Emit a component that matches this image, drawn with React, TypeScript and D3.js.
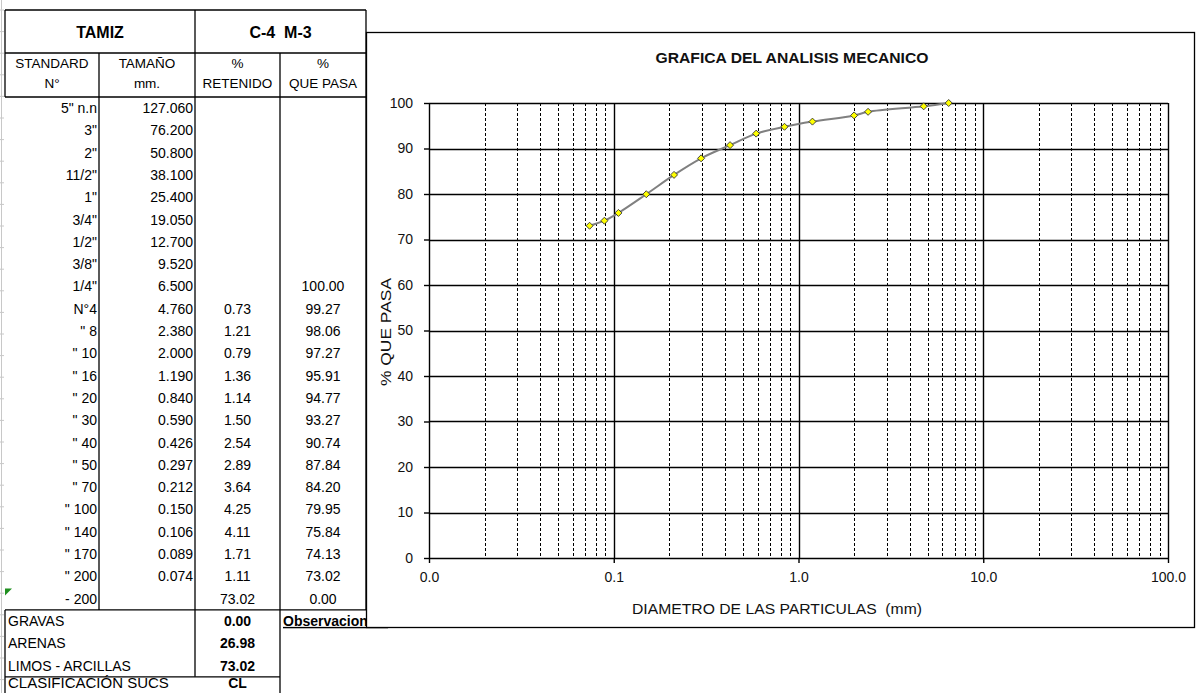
import { useRef, useEffect } from "react";
import * as d3 from "d3";

// Table data
const standards = ['5" n.n', '3"', '2"', '11/2"', '1"', '3/4"', '1/2"', '3/8"', '1/4"', "N°4", '" 8', '" 10', '" 16', '" 20', '" 30', '" 40', '" 50', '" 70', '" 100', '" 140', '" 170', '" 200', "- 200"];
const sizes = ["127.060", "76.200", "50.800", "38.100", "25.400", "19.050", "12.700", "9.520", "6.500", "4.760", "2.380", "2.000", "1.190", "0.840", "0.590", "0.426", "0.297", "0.212", "0.150", "0.106", "0.089", "0.074", ""];
const retenido = ["", "", "", "", "", "", "", "", "", "0.73", "1.21", "0.79", "1.36", "1.14", "1.50", "2.54", "2.89", "3.64", "4.25", "4.11", "1.71", "1.11", "73.02"];
const quePasa = ["", "", "", "", "", "", "", "", "100.00", "99.27", "98.06", "97.27", "95.91", "94.77", "93.27", "90.74", "87.84", "84.20", "79.95", "75.84", "74.13", "73.02", "0.00"];
const summaryLabels = ["GRAVAS", "ARENAS", "LIMOS - ARCILLAS"];
const summaryValues = ["0.00", "26.98", "73.02"];

// Chart data
const diametro = [6.5, 4.76, 2.38, 2.0, 1.19, 0.84, 0.59, 0.426, 0.297, 0.212, 0.15, 0.106, 0.089, 0.074];
const pasa = [100.0, 99.27, 98.06, 97.27, 95.91, 94.77, 93.27, 90.74, 87.84, 84.2, 79.95, 75.84, 74.13, 73.02];
const xTicks = [0.01, 0.1, 1, 10, 100];
const yTicks = [0, 10, 20, 30, 40, 50, 60, 70, 80, 90, 100];

export default function App() {
  const ref = useRef<SVGSVGElement>(null);

  useEffect(() => {
    if (!ref.current) return;
    const width = 1201;
    const height = 693;
    const svg = d3.select(ref.current);
    svg.selectAll("*").remove();
    svg.attr("width", width).attr("height", height);

    const tFont = "'Liberation Sans', Arial, sans-serif";

    // ---------- Table ----------
    const tbl = svg.append("g").attr("font-family", tFont).attr("fill", "#000");
    const colX = [5, 99, 195, 280, 366];
    const rowTop = 97;
    const rowH = 22.3;
    const rowsEnd = rowTop + rowH * standards.length; // ~610

    // excel left gridline
    tbl.append("line").attr("x1", 1.5).attr("x2", 1.5).attr("y1", 0).attr("y2", height).attr("stroke", "#c8c8c8");
    d3.range(0, 32).forEach((i) => {
      tbl.append("line").attr("x1", 0).attr("x2", 4).attr("y1", 10 + i * 21.6).attr("y2", 10 + i * 21.6).attr("stroke", "#c8c8c8");
    });

    const line = (x1: number, y1: number, x2: number, y2: number, w = 1.3) =>
      tbl.append("line").attr("x1", x1).attr("y1", y1).attr("x2", x2).attr("y2", y2).attr("stroke", "#000").attr("stroke-width", w);

    // header borders
    line(colX[0], 10, colX[4], 10);
    line(colX[0], 53, colX[4], 53);
    line(colX[0], rowTop, colX[4], rowTop);
    line(colX[0], 10, colX[0], rowTop);
    line(colX[1], 53, colX[1], rowsEnd);
    line(colX[2], 10, colX[2], rowsEnd + rowH * 3);
    line(colX[3], 53, colX[3], height);
    line(colX[4], 10, colX[4], rowsEnd);
    // summary borders
    line(colX[0], rowsEnd, colX[4], rowsEnd);
    line(colX[0], rowsEnd, colX[0], height);
    line(colX[0], rowsEnd + rowH * 3, colX[3], rowsEnd + rowH * 3);

    // header text
    tbl.append("text").attr("x", (colX[0] + colX[2]) / 2).attr("y", 38).attr("text-anchor", "middle")
      .attr("font-size", 16).attr("font-weight", "bold").text("TAMIZ");
    tbl.append("text").attr("x", (colX[2] + colX[4]) / 2).attr("y", 38).attr("text-anchor", "middle")
      .attr("font-size", 16).attr("font-weight", "bold").text("C-4\u00a0\u00a0M-3");
    const sub = [["STANDARD", "N°"], ["TAMAÑO", "mm."], ["%", "RETENIDO"], ["%", "QUE PASA"]];
    sub.forEach((s, i) => {
      const cx = (colX[i] + colX[i + 1]) / 2;
      tbl.append("text").attr("x", cx).attr("y", 68).attr("text-anchor", "middle").attr("font-size", 13.5).text(s[0]);
      tbl.append("text").attr("x", cx).attr("y", 88).attr("text-anchor", "middle").attr("font-size", 13.5).text(s[1]);
    });

    // data rows
    standards.forEach((s, i) => {
      const y = rowTop + rowH * i + 16;
      tbl.append("text").attr("x", colX[1] - 2).attr("y", y).attr("text-anchor", "end").attr("font-size", 14).text(s);
      tbl.append("text").attr("x", colX[2] - 2).attr("y", y).attr("text-anchor", "end").attr("font-size", 14).text(sizes[i]);
      tbl.append("text").attr("x", (colX[2] + colX[3]) / 2).attr("y", y).attr("text-anchor", "middle").attr("font-size", 14).text(retenido[i]);
      tbl.append("text").attr("x", (colX[3] + colX[4]) / 2).attr("y", y).attr("text-anchor", "middle").attr("font-size", 14).text(quePasa[i]);
    });

    // green indicator
    const gy = rowTop + rowH * (standards.length - 1);
    tbl.append("path").attr("d", `M${colX[0]},${gy + 1}L${colX[0] + 7},${gy + 1}L${colX[0]},${gy + 8}Z`).attr("fill", "#1f8f1f");

    // summary rows
    summaryLabels.forEach((s, i) => {
      const y = rowsEnd + rowH * i + 16;
      tbl.append("text").attr("x", colX[0] + 3).attr("y", y).attr("font-size", 14).text(s);
      tbl.append("text").attr("x", (colX[2] + colX[3]) / 2).attr("y", y).attr("text-anchor", "middle")
        .attr("font-size", 14).attr("font-weight", "bold").text(summaryValues[i]);
    });
    const cy = 688;
    tbl.append("text").attr("x", colX[0] + 3).attr("y", cy).attr("font-size", 15).text("CLASIFICACIÓN SUCS");
    tbl.append("text").attr("x", (colX[2] + colX[3]) / 2).attr("y", cy).attr("text-anchor", "middle")
      .attr("font-size", 14).attr("font-weight", "bold").text("CL");
    tbl.append("text").attr("x", colX[3] + 3).attr("y", rowsEnd + 16).attr("font-size", 14).attr("font-weight", "bold")
      .attr("text-decoration", "underline").text("Observaciones:");

    // ---------- Chart ----------
    const frame = { x: 366.5, y: 32.5, w: 828, h: 595 };
    const cg = svg.append("g").attr("font-family", "'Liberation Sans', Arial, sans-serif");
    cg.append("rect").attr("x", frame.x).attr("y", frame.y).attr("width", frame.w).attr("height", frame.h)
      .attr("fill", "#fff").attr("stroke", "#000").attr("stroke-width", 1.3);

    const x = d3.scaleLog().domain([0.01, 100]).range([429, 1168]);
    const y = d3.scaleLinear().domain([0, 100]).range([558, 103]);

    cg.append("text").attr("x", 792).attr("y", 63).attr("text-anchor", "middle").attr("font-size", 14.5)
      .attr("font-weight", "bold").attr("fill", "#111")
      .attr("textLength", 273).attr("lengthAdjust", "spacingAndGlyphs").text("GRAFICA DEL ANALISIS MECANICO");

    // minor vertical gridlines (dashed)
    const minor: number[] = [];
    [0.01, 0.1, 1, 10].forEach((d) => d3.range(2, 10).forEach((k) => minor.push(d * k)));
    cg.append("g").selectAll("line").data(minor).join("line")
      .attr("x1", (d) => Math.round(x(d)) + 0.5).attr("x2", (d) => Math.round(x(d)) + 0.5)
      .attr("y1", y(100)).attr("y2", y(0))
      .attr("stroke", "#000").attr("stroke-width", 1).attr("stroke-dasharray", "3,2");

    // major gridlines
    cg.append("g").selectAll("line").data(xTicks).join("line")
      .attr("x1", (d) => Math.round(x(d)) + 0.5).attr("x2", (d) => Math.round(x(d)) + 0.5)
      .attr("y1", y(100)).attr("y2", y(0)).attr("stroke", "#000").attr("stroke-width", 1.4);
    cg.append("g").selectAll("line").data(yTicks).join("line")
      .attr("x1", x(0.01)).attr("x2", x(100))
      .attr("y1", (d) => Math.round(y(d)) + 0.5).attr("y2", (d) => Math.round(y(d)) + 0.5)
      .attr("stroke", "#000").attr("stroke-width", 1.4);

    // axes
    const xAxis = cg.append("g").attr("transform", `translate(0,${y(0)})`)
      .call(d3.axisBottom(x).tickValues(xTicks).tickFormat(d3.format(".1f")).tickSize(5).tickPadding(9));
    const yAxis = cg.append("g").attr("transform", `translate(${x(0.01)},0)`)
      .call(d3.axisLeft(y).tickValues(yTicks).tickSize(5).tickPadding(11));
    [xAxis, yAxis].forEach((a) => {
      a.select(".domain").remove();
      a.selectAll("line").attr("stroke", "#000").attr("stroke-width", 1.4);
      a.selectAll("text").attr("font-size", 14).attr("fill", "#111")
        .attr("font-family", "'Liberation Sans', Arial, sans-serif");
    });

    // axis titles
    cg.append("text").attr("x", 777).attr("y", 614).attr("text-anchor", "middle").attr("font-size", 15)
      .attr("fill", "#111").attr("textLength", 290).attr("lengthAdjust", "spacingAndGlyphs")
      .text("DIAMETRO DE LAS PARTICULAS\u00a0\u00a0(mm)");
    cg.append("text").attr("transform", "translate(391,332) rotate(-90)").attr("text-anchor", "middle")
      .attr("font-size", 15.5).attr("fill", "#111").attr("textLength", 108).attr("lengthAdjust", "spacingAndGlyphs")
      .text("% QUE PASA");

    // curve
    const pts = diametro.map((d, i) => [d, pasa[i]] as [number, number]);
    cg.append("path").datum(pts)
      .attr("d", d3.line<[number, number]>().x((d) => x(d[0])).y((d) => y(d[1])).curve(d3.curveCatmullRom))
      .attr("fill", "none").attr("stroke", "#808080").attr("stroke-width", 2);
    cg.append("g").selectAll("path").data(pts).join("path")
      .attr("transform", (d) => `translate(${x(d[0])},${y(d[1])})`)
      .attr("d", "M0,-3.5L3.5,0L0,3.5L-3.5,0Z")
      .attr("fill", "#ffff00").attr("stroke", "#333").attr("stroke-width", 0.9);
  });

  return <svg ref={ref} style={{ position: "absolute", left: 0, top: 0 }}></svg>;
}
